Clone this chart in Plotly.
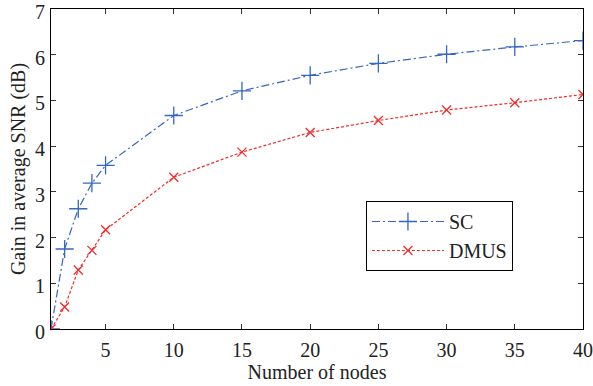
import plotly.graph_objects as go

# Number of cooperating nodes
nodes = [1, 2, 3, 4, 5, 10, 15, 20, 25, 30, 35, 40]
# Gain in average SNR (dB) for each scheme
gain_sc = [0.0, 1.75, 2.63, 3.19, 3.58, 4.67, 5.21, 5.55, 5.81, 6.01, 6.17, 6.31]
gain_dmus = [0.0, 0.48, 1.29, 1.72, 2.17, 3.32, 3.87, 4.30, 4.56, 4.79, 4.95, 5.13]

x_ticks = [5, 10, 15, 20, 25, 30, 35, 40]
y_ticks = [0, 1, 2, 3, 4, 5, 6, 7]

FONT = "Liberation Serif"
TEXT = "#222222"

fig = go.Figure()
fig.add_trace(go.Scatter(
    x=nodes, y=gain_sc, name="SC", mode="lines+markers",
    line=dict(color="#3566c2", width=1.2, dash="8px,3px,2px,3px"),
    marker=dict(symbol="cross-thin", size=13, line=dict(color="#3566c2", width=1.3)),
))
fig.add_trace(go.Scatter(
    x=nodes, y=gain_dmus, name="DMUS", mode="lines+markers",
    line=dict(color="#f02c2c", width=1.2, dash="3px,2px"),
    marker=dict(symbol="x-thin", size=9, line=dict(color="#f02c2c", width=1.3)),
))

axis_common = dict(
    showgrid=False, zeroline=False, showline=True, linecolor="black", linewidth=1,
    mirror="ticks", ticks="inside", ticklen=5, tickcolor="#333333", tickwidth=1,
    tickfont=dict(family=FONT, size=20, color=TEXT), automargin=False,
    ticklabeloverflow="allow",
)

fig.update_xaxes(
    range=[1, 40], tickvals=x_ticks, ticklabelstandoff=3,
    title=dict(text="Number of nodes", font=dict(family=FONT, size=20, color=TEXT), standoff=0),
    **axis_common,
)
fig.update_yaxes(
    range=[0, 7], tickvals=y_ticks, ticklabelstandoff=1, ticklabelshift=3,
    title=dict(text="Gain in average SNR (dB)", font=dict(family=FONT, size=20, color=TEXT), standoff=4),
    **axis_common,
)

fig.update_layout(
    width=593, height=386,
    margin=dict(l=51, r=10, t=9, b=57),
    plot_bgcolor="white", paper_bgcolor="white",
    showlegend=True,
    legend=dict(
        x=0.592, y=0.40, xanchor="left", yanchor="top",
        bgcolor="white", bordercolor="black", borderwidth=1,
        font=dict(family=FONT, size=20, color=TEXT),
        itemwidth=72, tracegroupgap=2,
    ),
)

fig.write_html("out.html")
